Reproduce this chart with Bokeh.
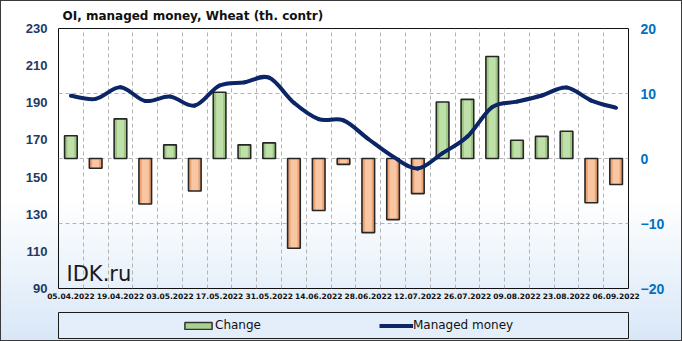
from bokeh.plotting import figure
from bokeh.layouts import column
from bokeh.models import (Range1d, LinearAxis, FixedTicker, Grid, Legend, LegendItem,
                          Label, ColumnDataSource)
from bokeh.embed import file_html
from bokeh.resources import INLINE

# ---- data ----
dates = ["05.04.2022", "12.04.2022", "19.04.2022", "26.04.2022", "03.05.2022", "10.05.2022",
         "17.05.2022", "24.05.2022", "31.05.2022", "07.06.2022", "14.06.2022", "21.06.2022",
         "28.06.2022", "05.07.2022", "12.07.2022", "19.07.2022", "26.07.2022", "02.08.2022",
         "09.08.2022", "16.08.2022", "23.08.2022", "30.08.2022", "06.09.2022"]
change = [3.5, -1.5, 6.1, -7.0, 2.1, -5.0, 10.2, 2.1, 2.4, -13.8, -8.0, -0.9,
          -11.4, -9.4, -5.4, 8.7, 9.1, 15.7, 2.8, 3.4, 4.2, -6.8, -4.0]
managed = [193.8, 192.1, 198.3, 191.0, 193.4, 188.5, 199.3, 201.0, 203.5, 190.0, 181.2, 180.5,
           170.5, 161.0, 154.6, 162.9, 171.8, 187.7, 190.6, 193.9, 198.2, 191.2, 187.3]
left_ticks = [90, 110, 130, 150, 170, 190, 210, 230]
right_ticks = [-20, -10, 0, 10, 20]
title_text = "OI, managed money, Wheat (th. contr)"

n = len(dates)
xs = list(range(n))

GREEN_EDGE, GREEN_IN = "#9cc883", "#c0e0aa"
ORANGE_EDGE, ORANGE_IN = "#eda273", "#f8c6a2"
NAVY = "#0b2566"
W = 682

# ---- main chart ----
p = figure(width=W, height=305, output_backend="svg", toolbar_location=None,
           x_range=Range1d(-0.5, n - 0.5), y_range=Range1d(left_ticks[0], left_ticks[-1]),
           min_border_left=58, min_border_right=54, min_border_top=28, min_border_bottom=17,
           border_fill_color=None, background_fill_color=None)
p.outline_line_color = "#111111"
p.outline_line_width = 1
p.extra_y_ranges = {"right": Range1d(right_ticks[0], right_ticks[-1])}

p.title.text = title_text
p.title.align = "left"
p.title.offset = 4
p.title.standoff = 12
p.title.text_font = "DejaVu Sans"
p.title.text_font_style = "bold"
p.title.text_font_size = "12px"
p.title.text_color = "#111111"

p.xaxis.ticker = FixedTicker(ticks=list(range(0, n, 2)))
p.xaxis.major_label_overrides = {i: dates[i] for i in range(0, n, 2)}
p.xaxis.major_label_text_font = "DejaVu Sans"
p.xaxis.major_label_text_font_style = "bold"
p.xaxis.major_label_text_font_size = "7.5px"
p.xaxis.major_label_text_color = "#111111"
p.xaxis.major_label_standoff = 4

p.yaxis.ticker = FixedTicker(ticks=left_ticks)
p.yaxis.major_label_text_font = "Liberation Sans"
p.yaxis.major_label_text_font_style = "bold"
p.yaxis.major_label_text_font_size = "13px"
p.yaxis.major_label_text_color = "#1f3864"
p.yaxis.major_label_standoff = 11

ry = LinearAxis(y_range_name="right", ticker=FixedTicker(ticks=right_ticks))
ry.major_label_text_font = "Liberation Sans"
ry.major_label_text_font_style = "bold"
ry.major_label_text_font_size = "14px"
ry.major_label_text_color = "#0070c0"
ry.major_label_standoff = 12
p.add_layout(ry, "right")

for ax in [p.xaxis[0], p.yaxis[0], ry]:
    ax.axis_line_color = None
    ax.major_tick_line_color = None
    ax.minor_tick_line_color = None
    ax.major_tick_out = 0
    ax.major_tick_in = 0

p.ygrid.visible = False
p.xgrid.ticker = FixedTicker(ticks=[i + 0.5 for i in range(n - 1)])
p.xgrid.grid_line_color = "#b4b4b4"
p.xgrid.grid_line_dash = "4 3"
p.add_layout(Grid(dimension=1, y_range_name="right", ticker=FixedTicker(ticks=right_ticks),
                  grid_line_color="#b4b4b4", grid_line_dash="4 3"))

src = ColumnDataSource(dict(
    x=xs, top=change,
    edge=[GREEN_EDGE if v >= 0 else ORANGE_EDGE for v in change],
    inner=[GREEN_IN if v >= 0 else ORANGE_IN for v in change],
))
p.vbar(x="x", top="top", bottom=0, width=0.51, source=src, y_range_name="right",
       fill_color="edge", line_color=None)
p.vbar(x="x", top="top", bottom=0, width=0.28, source=src, y_range_name="right",
       fill_color="inner", line_color=None)
p.vbar(x="x", top="top", bottom=0, width=0.51, source=src, y_range_name="right",
       fill_color=None, line_color="#262626", line_width=1.6)

# smooth line (Catmull-Rom -> cubic Bezier through the data points)
x0, y0, x1, y1, cx0, cy0, cx1, cy1 = [], [], [], [], [], [], [], []
for i in range(n - 1):
    a = i - 1 if i > 0 else i
    d = i + 2 if i + 2 < n else i + 1
    x0.append(xs[i]); y0.append(managed[i])
    x1.append(xs[i + 1]); y1.append(managed[i + 1])
    cx0.append(xs[i] + (xs[i + 1] - xs[a]) / 6.0)
    cy0.append(managed[i] + (managed[i + 1] - managed[a]) / 6.0)
    cx1.append(xs[i + 1] - (xs[d] - xs[i]) / 6.0)
    cy1.append(managed[i + 1] - (managed[d] - managed[i]) / 6.0)
lsrc = ColumnDataSource(dict(x0=x0, y0=y0, x1=x1, y1=y1, cx0=cx0, cy0=cy0, cx1=cx1, cy1=cy1))
p.bezier(x0="x0", y0="y0", x1="x1", y1="y1", cx0="cx0", cy0="cy0", cx1="cx1", cy1="cy1",
         source=lsrc, line_color=NAVY, line_width=4, line_cap="round")

p.add_layout(Label(x=8, y=15, x_units="screen", y_units="screen", text="IDK.ru",
                   text_font="DejaVu Sans", text_font_size="21px", text_color="#1a1a1a",
                   text_baseline="alphabetic"))

# ---- legend strip (its frame is the legend box; series drawn out of view, used for swatches) ----
pl = figure(width=W, height=36, output_backend="svg", toolbar_location=None,
            x_axis_type=None, y_axis_type=None,
            min_border_left=58, min_border_right=54, min_border_top=7, min_border_bottom=3,
            border_fill_color=None, background_fill_color="#e3eefa",
            outline_line_color="#1a1a1a",
            x_range=Range1d(-1000, -999), y_range=Range1d(-1000, -999))
lg_bar = pl.vbar(x="x", top="top", bottom=0, width=0.5, source=src,
                 fill_color="#a9d18e", line_color="#333333", line_width=1.5)
lg_line = pl.line(x=xs, y=managed, line_color=NAVY, line_width=4)
legend = Legend(items=[LegendItem(label="Change", renderers=[lg_bar], index=0),
                       LegendItem(label="Managed money", renderers=[lg_line])],
                orientation="horizontal", location=(123, 6),
                border_line_color=None, background_fill_alpha=0, padding=0, margin=0,
                spacing=118, glyph_width=34, glyph_height=9, label_standoff=0,
                label_text_font="DejaVu Sans", label_text_font_size="12px",
                label_text_color="#111111")
pl.add_layout(legend)

lay = column(p, pl, spacing=0)
lay.styles = {"background": "linear-gradient(to bottom, #ffffff 0%, #ffffff 58%, #d8e7f7 100%)",
              "outline": "1px solid #3a3a3a", "outline-offset": "-1px"}

open("out.html", "w").write(file_html(lay, INLINE))
